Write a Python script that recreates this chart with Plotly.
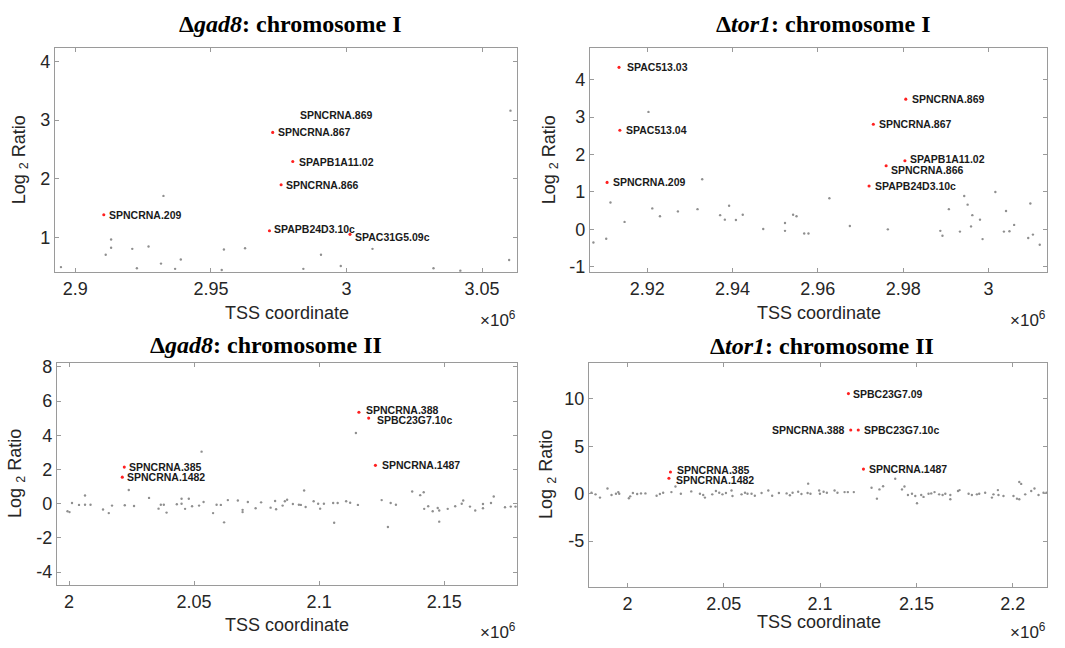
import plotly.graph_objects as go

# ---------------- data ----------------
# Panel 1: delta gad8, chromosome I (TSS coordinate in units of 1e6)
p1_gray_x = [2.8947, 2.9112, 2.9132, 2.9132, 2.9210, 2.9227, 2.9270, 2.9316, 2.9325, 2.9368, 2.9389,
             2.9540, 2.9548, 2.9626, 2.9841, 2.9906, 2.9979, 3.0096, 3.0321, 3.0420, 3.0600, 3.0605]
p1_gray_y = [0.50, 0.71, 0.97, 0.83, 0.81, 0.48, 0.85, 0.56, 1.71, 0.47, 0.63,
             0.45, 0.80, 0.82, 0.47, 0.71, 0.52, 0.81, 0.48, 0.44, 0.62, 3.16]
p1_names = ["SPNCRNA.209", "SPNCRNA.867", "SPAPB1A11.02", "SPNCRNA.866", "SPAPB24D3.10c", "SPAC31G5.09c"]
p1_red_x = [2.9105, 2.9728, 2.9802, 2.9759, 2.9716, 3.0013]
p1_red_y = [1.39, 2.79, 2.295, 1.90, 1.117, 1.057]
p1_text_only_names = ["SPNCRNA.869"]
p1_text_only_x = [2.9823]
p1_text_only_y = [3.08]

# Panel 2: delta tor1, chromosome I
p2_gray_x = [2.9074, 2.9104, 2.9114, 2.9147, 2.9203, 2.9212, 2.9230, 2.9272, 2.9318, 2.9329,
             2.9371, 2.9382, 2.9392, 2.9408, 2.9424, 2.9472, 2.9523, 2.9523, 2.9542, 2.9550,
             2.9568, 2.9578, 2.9627, 2.9675, 2.9764, 2.9887, 2.9892, 2.9907, 2.9933, 2.9943,
             2.9951, 2.9962, 2.9959, 2.9980, 2.9986, 3.0016, 3.0036, 3.0041, 3.0049, 3.0060,
             3.0093, 3.0098, 3.0104, 3.0120]
p2_gray_y = [-0.35, -0.25, 0.72, 0.20, 3.14, 0.56, 0.35, 0.48, 0.54, 1.34,
             0.38, 0.26, 0.63, 0.25, 0.39, 0.01, 0.17, -0.04, 0.39, 0.35,
             -0.11, -0.11, 0.83, 0.09, 0.00, -0.04, -0.17, 0.54, -0.06, 0.89,
             0.66, 0.38, 0.08, 0.26, -0.26, 1.00, -0.06, 0.49, -0.05, 0.12,
             -0.23, 0.69, -0.14, -0.41]
p2_names = ["SPAC513.03", "SPAC513.04", "SPNCRNA.209", "SPNCRNA.869", "SPNCRNA.867",
            "SPAPB1A11.02", "SPNCRNA.866", "SPAPB24D3.10c"]
p2_red_x = [2.9134, 2.9136, 2.9106, 2.9806, 2.9730, 2.9804, 2.9760, 2.9720]
p2_red_y = [4.33, 2.65, 1.255, 3.48, 2.81, 1.834, 1.70, 1.16]

# Panel 3: delta gad8, chromosome II
p3_gray_x = [1.9994, 2.0002, 2.0012, 2.0040, 2.0064, 2.0064, 2.0086, 2.0136, 2.0159, 2.0172,
             2.0223, 2.0239, 2.0260, 2.0320, 2.0358, 2.0367, 2.0379, 2.0390, 2.0431, 2.0450,
             2.0450, 2.0464, 2.0479, 2.0492, 2.0520, 2.0530, 2.0538, 2.0576, 2.0590, 2.0607,
             2.0620, 2.0635, 2.0675, 2.0694, 2.0694, 2.0715, 2.0746, 2.0768, 2.0806, 2.0824,
             2.0828, 2.0854, 2.0863, 2.0872, 2.0895, 2.0919, 2.0927, 2.0940, 2.0946, 2.0978,
             2.0996, 2.1004, 2.1019, 2.1056, 2.1060, 2.1074, 2.1108, 2.1124, 2.1147, 2.1155,
             2.1250, 2.1275, 2.1286, 2.1307, 2.1372, 2.1404, 2.1418, 2.1420, 2.1436, 2.1454,
             2.1474, 2.1480, 2.1480, 2.1514, 2.1544, 2.1570, 2.1576, 2.1603, 2.1624, 2.1655,
             2.1655, 2.1687, 2.1698, 2.1743, 2.1766, 2.1785]
p3_gray_y = [-0.44, -0.49, 0.04, -0.07, 0.48, -0.06, -0.06, -0.34, -0.55, -0.11,
             -0.09, 0.80, -0.13, 0.34, -0.29, -0.06, -0.06, -0.52, -0.03, 0.29,
             0.00, -0.30, 0.29, -0.15, -0.11, 3.04, 0.10, -0.55, -0.06, -0.07,
             -1.09, 0.21, 0.19, -0.36, -0.49, 0.10, -0.27, 0.08, -0.23, 0.16,
             -0.32, -0.11, 0.14, 0.23, -0.02, -0.06, -0.07, 0.77, -0.19, 0.14,
             0.00, -0.29, 0.00, 0.04, -1.11, 0.04, 0.14, 0.06, 4.13, -0.07,
             0.21, -1.36, 0.04, -0.06, 0.71, 0.50, 0.67, -0.30, -0.15, -0.44,
             -0.25, -0.40, -1.05, -0.30, -0.15, 0.00, 0.19, -0.17, -0.40, -0.02,
             -0.27, 0.04, 0.42, -0.21, -0.17, -0.17]
p3_names = ["SPNCRNA.385", "SPNCRNA.1482", "SPNCRNA.388", "SPBC23G7.10c", "SPNCRNA.1487"]
p3_red_x = [2.0221, 2.0213, 2.1159, 2.1198, 2.1225]
p3_red_y = [2.14, 1.55, 5.34, 5.00, 2.24]

# Panel 4: delta tor1, chromosome II
p4_gray_x = [1.9813, 1.9834, 1.9857, 1.9896, 1.9917, 1.9940, 1.9952, 1.9957, 2.0007, 2.0014,
             2.0028, 2.0050, 2.0070, 2.0093, 2.0151, 2.0168, 2.0185, 2.0228, 2.0249, 2.0277,
             2.0331, 2.0376, 2.0393, 2.0402, 2.0440, 2.0459, 2.0476, 2.0493, 2.0511, 2.0540,
             2.0545, 2.0592, 2.0610, 2.0623, 2.0644, 2.0661, 2.0696, 2.0731, 2.0751, 2.0786,
             2.0826, 2.0843, 2.0857, 2.0886, 2.0903, 2.0935, 2.0950, 2.0938,
             2.0995, 2.0999, 2.1018, 2.1035, 2.1075, 2.1090, 2.1127, 2.1144, 2.1175, 2.1267,
             2.1295, 2.1308, 2.1327, 2.1390, 2.1425, 2.1438, 2.1456, 2.1477, 2.1494, 2.1503,
             2.1525, 2.1537, 2.1563, 2.1577, 2.1594, 2.1618, 2.1636, 2.1650, 2.1676, 2.1676,
             2.1716, 2.1724, 2.1771, 2.1788, 2.1814, 2.1826, 2.1857, 2.1892, 2.1900, 2.1923,
             2.1926, 2.1952, 2.2004, 2.2022, 2.2034, 2.2034, 2.2044, 2.2065, 2.2096, 2.2113,
             2.2134, 2.2160, 2.2175]
p4_gray_y = [0.10, -0.07, -0.41, 0.55, -0.14, 0.00, 0.17, 0.00, -0.48, -0.28,
             0.07, -0.03, 0.03, 0.03, -0.21, -0.03, 0.10, 0.17, 0.76, 0.00,
             0.24, 0.00, -0.14, -0.41, -0.07, 0.28, 0.10, -0.07, 0.07, 0.34,
             -0.24, -0.07, 0.10, 0.00, 0.00, -0.21, 0.07, 0.34, -0.21, 0.07,
             0.03, -0.17, 0.10, 0.21, -0.03, 0.07, 0.00, 1.06,
             0.34, 0.00, 0.21, 0.10, 0.34, 0.10, 0.17, 0.17, 0.17, 0.62,
             -0.52, 0.45, 0.79, 1.58, 0.45, 0.76, -0.14, 0.00, -0.24, -1.00,
             -0.14, -0.34, 0.00, 0.03, 0.17, -0.07, -0.14, 0.00, -0.14, -0.59,
             0.28, 0.38, 0.00, -0.14, -0.07, 0.00, 0.10, -0.41, -0.07, 0.38,
             -0.14, -0.24, -0.24, -0.52, -0.59, 1.24, 1.03, -0.07, 0.28, 0.55,
             -0.14, 0.10, 0.10]
p4_names = ["SPBC23G7.09", "SPNCRNA.388", "SPBC23G7.10c", "SPNCRNA.1487", "SPNCRNA.385", "SPNCRNA.1482"]
p4_red_x = [2.1147, 2.1159, 2.1198, 2.1225, 2.0223, 2.0215]
p4_red_y = [10.55, 6.72, 6.72, 2.59, 2.28, 1.62]

# titles and ticks
titles = ["Δ<i>gad8</i>: chromosome I", "Δ<i>tor1</i>: chromosome I",
          "Δ<i>gad8</i>: chromosome II", "Δ<i>tor1</i>: chromosome II"]
x_tickvals = [[2.9, 2.95, 3.0, 3.05], [2.92, 2.94, 2.96, 2.98, 3.0],
              [2.0, 2.05, 2.1, 2.15], [2.0, 2.05, 2.1, 2.15, 2.2]]
x_ticktext = [["2.9", "2.95", "3", "3.05"], ["2.92", "2.94", "2.96", "2.98", "3"],
              ["2", "2.05", "2.1", "2.15"], ["2", "2.05", "2.1", "2.15", "2.2"]]
y_tickvals = [[1, 2, 3, 4], [-1, 0, 1, 2, 3, 4], [-4, -2, 0, 2, 4, 6, 8], [-5, 0, 5, 10]]
y_ticktext = [["1", "2", "3", "4"], ["-1", "0", "1", "2", "3", "4"],
              ["-4", "-2", "0", "2", "4", "6", "8"], ["-5", "0", "5", "10"]]
x_title = "TSS coordinate"
y_title = "Log <sub>2</sub> Ratio"
x_exponent = "×10<sup>6</sup>"

# ---------------- layout / style (pixels) ----------------
W, H = 1065, 648
boxes = [(55, 517, 43, 271), (590, 1047, 43, 271), (57, 517, 363, 589), (589, 1047, 363, 591)]
x_ranges = [[2.8925, 3.0629], [2.9066, 3.0137], [1.9952, 2.1791], [1.980, 2.2178]]
y_ranges = [[0.41, 4.22], [-1.15, 4.84], [-4.75, 8.23], [-9.83, 13.79]]
title_pos = [(290, 18), (823, 18), (266, 345), (822, 346)]
xtitle_pos = [(287, 312), (819, 312), (287, 630), (819, 627)]
ytitle_x = [20, 550, 17, 548]
exp_pos = [(518, 318), (1048, 318), (518, 636), (1048, 636)]

p1_shift = [(3, 0), (3, 0), (4, 0), (3, 0), (3, 2), (3.5, -3)]
p2_shift = [(6, 0), (4, 0), (4, 0), (4, 0), (4, 0), (3, 2), (3, -4), (4, 0)]
p3_shift = [(3, 0), (3, 0), (5, 2), (6, -2), (5, 0)]
p4_shift = [(3, 0), (-4, 0), (4, 0), (4, 0), (5, 2), (5, -2)]

panels = [
    (p1_gray_x, p1_gray_y, p1_names, p1_red_x, p1_red_y, p1_shift),
    (p2_gray_x, p2_gray_y, p2_names, p2_red_x, p2_red_y, p2_shift),
    (p3_gray_x, p3_gray_y, p3_names, p3_red_x, p3_red_y, p3_shift),
    (p4_gray_x, p4_gray_y, p4_names, p4_red_x, p4_red_y, p4_shift),
]

AXC = "#262626"
LINEC = "#9a9a9a"
SANS = "Liberation Sans, Arial, sans-serif"
SERIF = "Liberation Serif, Times New Roman, serif"

fig = go.Figure()
annotations = []

def px(xp):
    return xp / W

def py(yp):
    return 1 - yp / H

layout_axes = {}
for i, (gx, gy, names, rx, ry, shifts) in enumerate(panels):
    n = i + 1
    xa = "x" if n == 1 else f"x{n}"
    ya = "y" if n == 1 else f"y{n}"
    fig.add_trace(go.Scatter(x=gx, y=gy, mode="markers", xaxis=xa, yaxis=ya,
                             marker=dict(size=2.4, color="#8f8f8f"), showlegend=False,
                             hoverinfo="x+y"))
    fig.add_trace(go.Scatter(x=rx, y=ry, mode="markers", xaxis=xa, yaxis=ya,
                             marker=dict(size=3.1, color="#ff2020"), showlegend=False,
                             text=names, hoverinfo="text"))
    for name, x, y, (dx, dy) in zip(names, rx, ry, shifts):
        annotations.append(dict(x=x, y=y, xref=xa, yref=ya, text=f"<b>{name}</b>", showarrow=False,
                                xanchor="left" if dx >= 0 else "right", yanchor="middle",
                                xshift=dx, yshift=dy,
                                font=dict(family=SANS, size=10.5, color="#1a1a1a")))
    l, r, t, b = boxes[i]
    axis_common = dict(showline=True, linecolor=LINEC, linewidth=1.3, mirror="ticks",
                       ticks="inside", ticklen=4, tickcolor=LINEC, tickwidth=1,
                       showgrid=False, zeroline=False,
                       tickfont=dict(family=SANS, size=18, color=AXC))
    layout_axes["xaxis" if n == 1 else f"xaxis{n}"] = dict(
        domain=[px(l), px(r)], range=x_ranges[i], anchor=ya,
        tickmode="array", tickvals=x_tickvals[i], ticktext=x_ticktext[i], **axis_common)
    layout_axes["yaxis" if n == 1 else f"yaxis{n}"] = dict(
        domain=[py(b), py(t)], range=y_ranges[i], anchor=xa,
        tickmode="array", tickvals=y_tickvals[i], ticktext=y_ticktext[i], **axis_common)

    tx, ty = title_pos[i]
    annotations.append(dict(x=px(tx), y=py(ty), xref="paper", yref="paper", text=f"<b>{titles[i]}</b>",
                            showarrow=False, xanchor="center", yanchor="middle",
                            font=dict(family=SERIF, size=24, color="#000000")))
    xx, xy = xtitle_pos[i]
    annotations.append(dict(x=px(xx), y=py(xy), xref="paper", yref="paper", text=x_title,
                            showarrow=False, xanchor="center", yanchor="middle",
                            font=dict(family=SANS, size=18, color=AXC)))
    annotations.append(dict(x=px(ytitle_x[i]), y=py((t + b) / 2), xref="paper", yref="paper",
                            text=y_title, textangle=-90, showarrow=False,
                            xanchor="center", yanchor="middle",
                            font=dict(family=SANS, size=18, color=AXC)))
    ex, ey = exp_pos[i]
    annotations.append(dict(x=px(ex), y=py(ey), xref="paper", yref="paper", text=x_exponent,
                            showarrow=False, xanchor="right", yanchor="middle",
                            font=dict(family=SANS, size=17, color=AXC)))

# text-only label in panel 1 (point not marked in the original)
for name, x, y in zip(p1_text_only_names, p1_text_only_x, p1_text_only_y):
    annotations.append(dict(x=x, y=y, xref="x", yref="y", text=f"<b>{name}</b>", showarrow=False,
                            xanchor="left", yanchor="middle",
                            font=dict(family=SANS, size=10.5, color="#1a1a1a")))

fig.update_layout(width=W, height=H, autosize=False,
                  margin=dict(l=0, r=0, t=0, b=0, pad=0),
                  paper_bgcolor="white", plot_bgcolor="white",
                  annotations=annotations, **layout_axes)

fig.write_html("out.html", config={"displayModeBar": False},
               post_script="document.body.style.margin='0';document.body.style.overflow='hidden';")
